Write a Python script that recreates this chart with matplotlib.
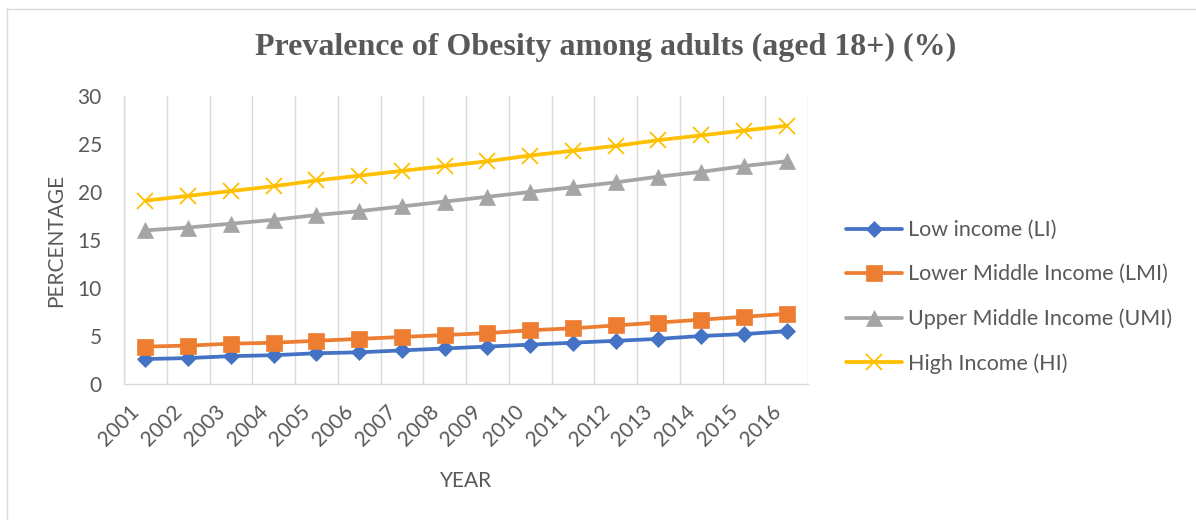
import matplotlib
matplotlib.use("Agg")
import matplotlib.pyplot as plt
from matplotlib.lines import Line2D
from matplotlib.transforms import ScaledTranslation
import numpy as np

years = [str(y) for y in range(2001, 2017)]
low_income = [2.6, 2.7, 2.9, 3.0, 3.2, 3.3, 3.5, 3.7, 3.9, 4.1, 4.3, 4.5, 4.7, 5.0, 5.2, 5.5]
lower_middle = [3.9, 4.0, 4.2, 4.3, 4.5, 4.7, 4.9, 5.1, 5.3, 5.6, 5.8, 6.1, 6.4, 6.7, 7.0, 7.3]
upper_middle = [16.0, 16.3, 16.7, 17.1, 17.6, 18.0, 18.5, 19.0, 19.5, 20.0, 20.5, 21.0, 21.6, 22.1, 22.7, 23.2]
high_income = [19.1, 19.6, 20.1, 20.6, 21.2, 21.7, 22.2, 22.7, 23.2, 23.8, 24.3, 24.8, 25.4, 25.9, 26.4, 26.9]
series_names = ["Low income (LI)", "Lower Middle Income (LMI)",
                "Upper Middle Income (UMI)", "High Income (HI)"]
y_ticks = [0, 5, 10, 15, 20, 25, 30]

plt.rcParams['font.family'] = ['Lato', 'DejaVu Sans']
txt = "#595959"
grid_c = "#D9D9D9"

fig = plt.figure(figsize=(11.96, 5.2), dpi=100)
W, H = 1196, 520
ax = fig.add_axes([124 / W, 1 - 384 / H, (808 - 124) / W, (384 - 96) / H])

x = np.arange(len(years))
styles = [
    ("#4472C4", "D", 8.5),
    ("#ED7D31", "s", 11.5),
    ("#A5A5A5", "^", 12),
    ("#FFC000", "x", 12),
]
for vals, name, (c, m, ms) in zip([low_income, lower_middle, upper_middle, high_income], series_names, styles):
    ax.plot(x, vals, color=c, lw=2.7, marker=m, markersize=ms,
            markeredgewidth=1.3 if m == "x" else 0.5, markeredgecolor=c,
            label=name, solid_capstyle="round", clip_on=False)

ax.set_xlim(-0.5, len(years) - 0.5)
ax.set_ylim(0, 30)
ax.set_yticks(y_ticks)
ax.set_xticks(x)
ax.set_xticks(np.arange(-0.5, len(years), 1), minor=True)
ax.grid(False)
ax.grid(True, which="minor", axis="x", color=grid_c, lw=1.0)
ax.tick_params(axis="both", which="both", length=0, labelsize=15, labelcolor=txt)
ax.tick_params(axis="y", pad=16)
ax.tick_params(axis="x", pad=14)
ax.set_xticklabels(years, rotation=45, ha="right", rotation_mode="anchor", va="center")
off = ScaledTranslation(-9 / 100, -5 / 100, fig.dpi_scale_trans)
for tick in ax.xaxis.get_major_ticks():
    tick.label1.set_transform(tick.label1.get_transform() + off)
for s in ["top", "right"]:
    ax.spines[s].set_visible(False)
for s in ["left", "bottom"]:
    ax.spines[s].set_color(grid_c)
    ax.spines[s].set_linewidth(1.0)

ax.set_ylabel("PERCENTAGE", fontsize=15, color=txt, va="center")
ax.yaxis.set_label_coords((56 - 124) / 684, 0.5)
ax.set_xlabel("YEAR", fontsize=15, color=txt, va="center")
ax.xaxis.set_label_coords((466 - 124) / 684, (384 - 481) / 288)

fig.text(606 / W, 1 - 47 / H, "Prevalence of Obesity among adults (aged 18+) (%)",
         fontsize=23, fontweight="bold", color=txt, family="Liberation Serif",
         ha="center", va="center")

leg = ax.legend(loc="center left", bbox_to_anchor=(846 / W, 1 - 297 / H),
                bbox_transform=fig.transFigure, frameon=False, fontsize=15.5,
                labelcolor=txt, handlelength=2.6, labelspacing=1.12,
                handletextpad=0.3, borderpad=0, borderaxespad=0)

fig.add_artist(Line2D([7 / W, 7 / W], [0, 1 - 9 / H], color=grid_c, lw=1.0, transform=fig.transFigure))
fig.add_artist(Line2D([7 / W, 1], [1 - 9 / H, 1 - 9 / H], color=grid_c, lw=1.0, transform=fig.transFigure))

fig.savefig("out.png", dpi=100, facecolor="white")
